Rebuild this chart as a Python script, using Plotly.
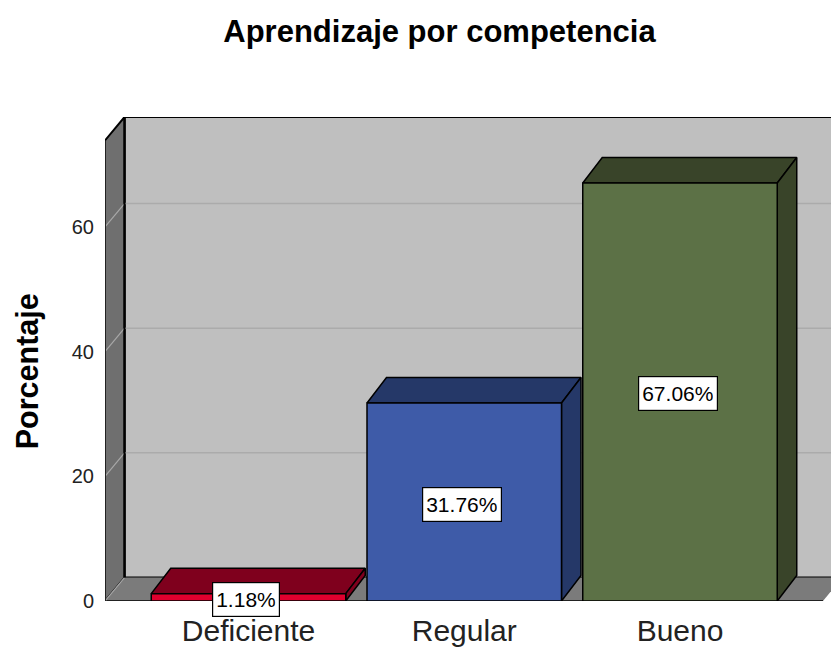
import plotly.graph_objects as go

categories = ["Deficiente", "Regular", "Bueno"]
values = [1.18, 31.76, 67.06]
value_labels = ["1.18%", "31.76%", "67.06%"]
tick_values = [0, 20, 40, 60]
title_text = "Aprendizaje por competencia"
y_title = "Porcentaje"
front_colors = ["#E0002E", "#3E5BA8", "#5C7146"]
side_colors = ["#7F001D", "#253868", "#394429"]

W, H = 831, 647
LEFT, RIGHT_PX, TOP, BASE = 105, 831, 117, 601.5
PX_X = 215.75
PX_Y = 6.24
X0 = -(248.5 - LEFT) / PX_X
X1 = X0 + (RIGHT_PX - LEFT) / PX_X
Y1 = (BASE - TOP) / PX_Y
BAR_W = 194.5 / PX_X
BAR_DX = 19.5 / PX_X
BAR_DY = 25.5 / PX_Y
WALL_DX = 19.5 / PX_X
WALL_DY = 23.5 / PX_Y
FLOOR_END = X0 + (823 - LEFT) / PX_X
WALL_TOP = Y1 - WALL_DY


def poly(xs, ys, fill, line="#000000", width=1.5):
    return go.Scatter(
        x=xs + xs[:1], y=ys + ys[:1], mode="lines", fill="toself", fillcolor=fill,
        line=dict(color=line, width=width), hoverinfo="skip", showlegend=False,
        cliponaxis=False,
    )


def seg(xs, ys, color, width=1.5):
    return go.Scatter(
        x=xs, y=ys, mode="lines", line=dict(color=color, width=width),
        hoverinfo="skip", showlegend=False, cliponaxis=False,
    )


fig = go.Figure()
# back wall
fig.add_trace(poly([X0 + WALL_DX, X1 + WALL_DX, X1 + WALL_DX, X0 + WALL_DX],
                   [WALL_DY, WALL_DY, Y1, Y1], "#BFBFBF", width=2))
# left wall
fig.add_trace(poly([X0, X0 + WALL_DX, X0 + WALL_DX, X0],
                   [0, WALL_DY, Y1, WALL_TOP], "#6F6F6F", width=2))
# floor
fig.add_trace(poly([X0, FLOOR_END, FLOOR_END + WALL_DX, X0 + WALL_DX],
                   [0, 0, WALL_DY, WALL_DY], "#7B7B7B", line="rgba(0,0,0,0)", width=0))
fig.add_trace(seg([X0, FLOOR_END], [0, 0], "#222222", 2))
# grid
for t in tick_values[1:]:
    fig.add_trace(seg([X0 + WALL_DX, X1 + WALL_DX], [t + WALL_DY, t + WALL_DY], "#ABABAB", 1.5))
    fig.add_trace(seg([X0, X0 + WALL_DX], [t, t + WALL_DY], "#A8A8A8", 1.2))
fig.add_trace(seg([X0, X0 + WALL_DX], [0, WALL_DY], "#A8A8A8", 1.2))
# wall edge over grid
fig.add_trace(seg([X0 + WALL_DX, X0 + WALL_DX], [WALL_DY, Y1], "#000000", 2))
fig.add_trace(seg([X0, X0], [0, WALL_TOP], "#222222", 2))
# bars
for i, v in enumerate(values):
    l, r = i - BAR_W / 2, i + BAR_W / 2
    fig.add_trace(poly([l, r, r + BAR_DX, l + BAR_DX], [v, v, v + BAR_DY, v + BAR_DY], side_colors[i]))
    fig.add_trace(poly([r, r + BAR_DX, r + BAR_DX, r], [0, BAR_DY, v + BAR_DY, v], side_colors[i]))
    fig.add_trace(poly([l, r, r, l], [0, 0, v, v], front_colors[i]))

annotations = []
for i, (v, s) in enumerate(zip(values, value_labels)):
    annotations.append(dict(
        x=i, y=v / 2, text=s, showarrow=False, xshift=-2.5, yshift=-2,
        font=dict(family="Liberation Sans", size=21, color="#000000"), height=27,
        bgcolor="#FFFFFF", bordercolor="#000000", borderwidth=1.2, borderpad=3,
    ))
annotations.append(dict(
    xref="paper", yref="paper", x=-(LEFT - 27) / (W - LEFT), y=(BASE - 371.5) / (BASE - TOP),
    xanchor="center", yanchor="middle",
    text=f"<b>{y_title}</b>", textangle=-90, showarrow=False,
    font=dict(family="Liberation Sans", size=30.5, color="#000000"),
))

fig.update_layout(
    width=W, height=H, margin=dict(l=LEFT, r=0, t=TOP, b=H - BASE),
    paper_bgcolor="#FFFFFF", plot_bgcolor="#FFFFFF", showlegend=False,
    font=dict(family="Liberation Sans", color="#000000"),
    title=dict(text=f"<b>{title_text}</b>", x=439.5 / W, xanchor="center", xref="container",
               y=1 - 31 / H, yanchor="middle", yref="container",
               font=dict(family="Liberation Sans", size=31, color="#000000")),
    xaxis=dict(range=[X0, X1], tickmode="array", tickvals=list(range(len(categories))), ticktext=categories,
               showgrid=False, zeroline=False, showline=False, ticks="outside", ticklen=3,
               tickcolor="rgba(0,0,0,0)", automargin=False,
               tickfont=dict(family="Liberation Sans", size=30, color="#222222")),
    yaxis=dict(range=[0, Y1], tickmode="array", tickvals=tick_values, showgrid=False, zeroline=False,
               showline=False, ticks="outside", ticklen=6, tickcolor="rgba(0,0,0,0)", tickwidth=1,
               automargin=False,
               tickfont=dict(family="Liberation Sans", size=20, color="#222222")),
    annotations=annotations,
)
fig.write_html("out.html", post_script="document.body.style.margin='0';",
               config={"displayModeBar": False})
